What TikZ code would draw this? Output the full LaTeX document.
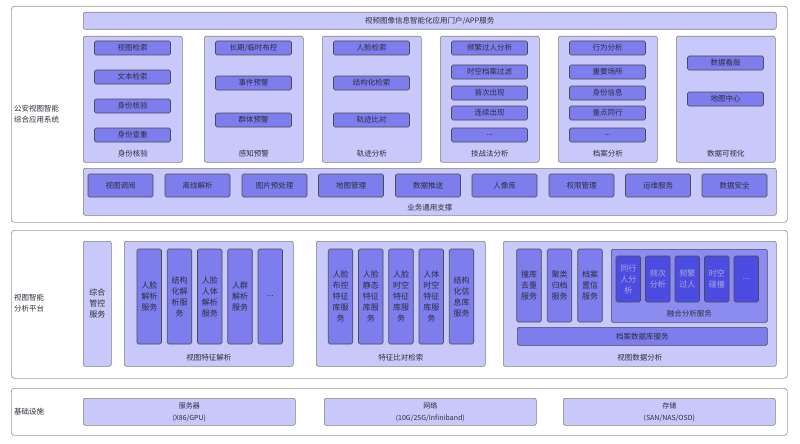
\documentclass[tikz,border=0pt]{standalone}
\usepackage{fontspec}
\setmainfont{Noto Sans CJK SC}
\usetikzlibrary{positioning}
\definecolor{lightpurple}{RGB}{200,200,250}
\definecolor{midpurple}{RGB}{125,125,238}
\definecolor{fusionpurple}{RGB}{140,140,240}
\definecolor{deeppurple}{RGB}{76,76,226}
\definecolor{textgray}{RGB}{45,45,60}

\begin{document}
\begin{tikzpicture}[x=1pt, y=-1pt, text=textgray, layer/.style={draw=black!40, fill=white, rounded corners=3pt, line width=0.7pt, anchor=north west, inner sep=0pt}, group/.style={draw=black!50, fill=lightpurple, rounded corners=2pt, line width=0.6pt, anchor=north west, inner sep=0pt, font=\fontsize{7.5}{11}\selectfont, align=center}, col/.style={group, minimum width=99pt, minimum height=126pt}, item/.style={draw=black!70, fill=midpurple, rounded corners=1.5pt, line width=0.6pt, inner sep=0pt, font=\fontsize{7.5}{11}\selectfont, align=center}, wideitem/.style={item, minimum width=76pt, minimum height=14pt}, supportitem/.style={item, minimum width=65pt, minimum height=23pt}, tallitem/.style={item, minimum width=24.5pt, minimum height=95pt, font=\fontsize{8}{11}\selectfont}, shortitem/.style={item, minimum width=24.5pt, minimum height=73pt, font=\fontsize{8}{11}\selectfont}, deepitem/.style={item, fill=deeppurple, text=black!15!lightpurple, minimum width=24.5pt, minimum height=46pt, font=\fontsize{8}{11}\selectfont}, caption/.style={inner sep=0pt, font=\fontsize{7.5}{11}\selectfont}, tag/.style={anchor=west, align=left, inner sep=0pt, font=\fontsize{7.5}{11}\selectfont}, hw/.style={group, minimum width=212pt, minimum height=27pt, font=\fontsize{7}{12}\selectfont}]

    \useasboundingbox (0,0) rectangle (800,444);

    %Application layer
    \node[layer, minimum width=776pt, minimum height=216pt](appsys) at (11,6){};
    \node[tag](appsys_text) at (14,114.5){公安视图智能\\综合应用系统};
    \node[group, minimum width=693pt, minimum height=17pt](portal) at (83,12){视频图像信息智能化应用门户/APP服务};

    \node[col](identity) at (83,36){};
    \node[caption](identity_text)[above=5pt of identity.south]{身份核验};
    \node[wideitem](identity_a) at (132.5,48){视图检索};
    \node[wideitem](identity_b) at (132.5,77){文本检索};
    \node[wideitem](identity_c) at (132.5,106){身份核验};
    \node[wideitem](identity_d) at (132.5,135){身份查重};

    \node[col](alert) at (204,36){};
    \node[caption](alert_text)[above=5pt of alert.south]{感知预警};
    \node[wideitem](alert_a) at (253.5,48){长期/临时布控};
    \node[wideitem](alert_b) at (253.5,83){事件预警};
    \node[wideitem](alert_c) at (253.5,120){群体预警};

    \node[col](track) at (322,36){};
    \node[caption](track_text)[above=5pt of track.south]{轨迹分析};
    \node[wideitem](track_a) at (371.5,48){人脸检索};
    \node[wideitem](track_b) at (371.5,83){结构化检索};
    \node[wideitem](track_c) at (371.5,120){轨迹比对};

    \node[col](tactic) at (440,36){};
    \node[caption](tactic_text)[above=5pt of tactic.south]{技战法分析};
    \node[wideitem](tactic_a) at (489.5,48){频繁过人分析};
    \node[wideitem](tactic_b) at (489.5,72){时空档案过滤};
    \node[wideitem](tactic_c) at (489.5,93){首次出现};
    \node[wideitem](tactic_d) at (489.5,113){连续出现};
    \node[wideitem](tactic_e) at (489.5,135){...};

    \node[col](archive) at (558,36){};
    \node[caption](archive_text)[above=5pt of archive.south]{档案分析};
    \node[wideitem](archive_a) at (607.5,48){行为分析};
    \node[wideitem](archive_b) at (607.5,72){重要场所};
    \node[wideitem](archive_c) at (607.5,93){身份信息};
    \node[wideitem](archive_d) at (607.5,113){重点同行};
    \node[wideitem](archive_e) at (607.5,135){...};

    \node[col](visual) at (676,36){};
    \node[caption](visual_text)[above=5pt of visual.south]{数据可视化};
    \node[wideitem](visual_a) at (725.5,63){数据看版};
    \node[wideitem](visual_b) at (725.5,99){地图中心};

    \node[group, minimum width=693pt, minimum height=47pt](support) at (83,168){};
    \node[caption](support_text)[above=4pt of support.south]{业务通用支撑};
    \node[supportitem](support_a) at (120.5,185.5){视图调阅};
    \node[supportitem](support_b) at (197.5,185.5){离线解析};
    \node[supportitem](support_c) at (274.5,185.5){图片预处理};
    \node[supportitem](support_d) at (351,185.5){地图管理};
    \node[supportitem](support_e) at (428,185.5){数据推送};
    \node[supportitem](support_f) at (504.5,185.5){人像库};
    \node[supportitem](support_g) at (581.5,185.5){权限管理};
    \node[supportitem](support_h) at (658,185.5){运维服务};
    \node[supportitem](support_i) at (734.5,185.5){数据安全};

    %Platform layer
    \node[layer, minimum width=776pt, minimum height=148pt](platform) at (11,230){};
    \node[tag](platform_text) at (14,303.5){视图智能\\分析平台};
    \node[group, minimum width=28pt, minimum height=125pt, font=\fontsize{8}{11}\selectfont](control) at (83,241){综合\\管控\\服务};

    \node[group, minimum width=169pt, minimum height=125pt](parse) at (124,241){};
    \node[caption](parse_text)[above=5pt of parse.south]{视图特征解析};
    \node[tallitem](parse_a) at (149.25,296.5){人脸\\解析\\服务};
    \node[tallitem](parse_b) at (179.5,296.5){结构\\化解\\析服\\务};
    \node[tallitem](parse_c) at (209.75,296.5){人脸\\人体\\解析\\服务};
    \node[tallitem](parse_d) at (240,296.5){人群\\解析\\服务};
    \node[tallitem](parse_e) at (270.25,296.5){...};

    \node[group, minimum width=169pt, minimum height=125pt](compare) at (316,241){};
    \node[caption](compare_text)[above=5pt of compare.south]{特征比对检索};
    \node[tallitem](compare_a) at (340.5,296.5){人脸\\布控\\特征\\库服\\务};
    \node[tallitem](compare_b) at (370.75,296.5){人脸\\静态\\特征\\库服\\务};
    \node[tallitem](compare_c) at (401,296.5){人脸\\时空\\特征\\库服\\务};
    \node[tallitem](compare_d) at (431.25,296.5){人体\\时空\\特征\\库服\\务};
    \node[tallitem](compare_e) at (461.5,296.5){结构\\化信\\息库\\服务};

    \node[group, minimum width=273pt, minimum height=125pt](analysis) at (503,241){};
    \node[caption](analysis_text)[above=5pt of analysis.south]{视图数据分析};
    \node[shortitem](analysis_a) at (529,285.5){撞库\\去重\\服务};
    \node[shortitem](analysis_b) at (559.5,285.5){聚类\\归档\\服务};
    \node[shortitem](analysis_c) at (590,285.5){档案\\置信\\服务};
    \node[item, fill=fusionpurple, anchor=north west, minimum width=156pt, minimum height=73pt](fusion) at (611,249){};
    \node[caption](fusion_text)[above=5pt of fusion.south]{融合分析服务};
    \node[deepitem](fusion_a) at (628.25,279){同行\\人分\\析};
    \node[deepitem](fusion_b) at (657.75,279){频次\\分析};
    \node[deepitem](fusion_c) at (687.25,279){频繁\\过人};
    \node[deepitem](fusion_d) at (716.75,279){时空\\碰撞};
    \node[deepitem](fusion_e) at (746.25,279){...};
    \node[item, anchor=north west, minimum width=250pt, minimum height=18pt](database) at (517,327){档案数据库服务};

    %Infrastructure layer
    \node[layer, minimum width=776pt, minimum height=47pt](infra) at (11,388){};
    \node[tag](infra_text) at (14,412){基础设施};
    \node[hw](server) at (83,398){服务器\\(X86/GPU)};
    \node[hw](network) at (324,398){网络\\(10G/25G/Infiniband)};
    \node[hw](storage) at (563,398){存储\\(SAN/NAS/OSD)};

\end{tikzpicture}
\end{document}
